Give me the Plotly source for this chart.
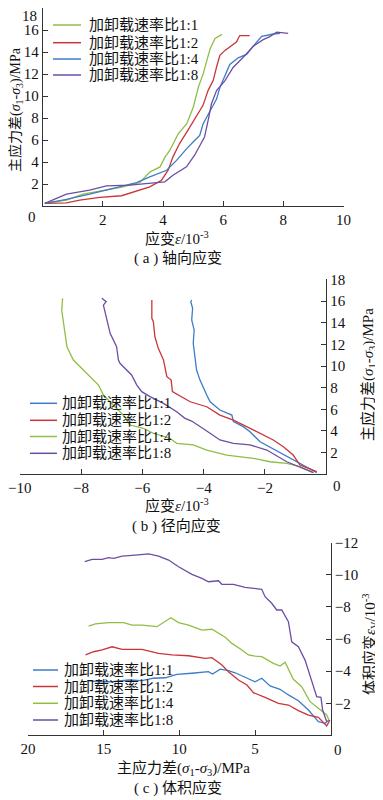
import plotly.graph_objects as go

W, H = 383, 800
OFF = 8  # page body margin of the html page

names = ["加卸载速率比1:1", "加卸载速率比1:2", "加卸载速率比1:4", "加卸载速率比1:8"]
GREEN, RED, BLUE, PURPLE = "#8fbe45", "#c9363a", "#3d7cc6", "#6d4ea4"

# ---------- (a) axial strain ----------
a_colors = [GREEN, RED, BLUE, PURPLE]
a_x_11 = [0.07, 0.79, 1.34, 1.9, 2.67, 3.23, 3.57, 3.9, 4.07, 4.23, 4.51, 4.79, 5.01, 5.18, 5.34, 5.46, 5.57, 5.73, 5.96]
a_y_11 = [0.25, 0.55, 1.09, 1.36, 1.76, 2.15, 3.12, 3.57, 4.48, 5.09, 6.6, 7.5, 9.03, 10.85, 12.06, 13.27, 14.33, 15.24, 15.6]
a_x_12 = [0.07, 0.79, 1.23, 1.9, 2.62, 3.12, 3.56, 3.95, 4.17, 4.33, 4.55, 4.83, 5.11, 5.33, 5.5, 5.67, 5.78, 5.89, 6.06, 6.28, 6.44, 6.55, 6.88]
a_y_12 = [0.25, 0.3, 0.56, 0.8, 0.95, 1.39, 1.75, 2.36, 3.27, 4.48, 5.69, 6.9, 8.1, 9.16, 10.52, 11.43, 12.64, 13.7, 14.15, 14.6, 14.9, 15.5, 15.5]
a_x_14 = [0.07, 0.79, 1.56, 2.34, 3.12, 3.56, 4.12, 4.45, 4.78, 5.05, 5.22, 5.33, 5.55, 5.78, 5.89, 6.06, 6.22, 6.5, 6.78, 7.0, 7.28, 7.67, 7.89]
a_y_14 = [0.25, 0.62, 1.09, 1.6, 2.15, 2.66, 3.26, 4.16, 5.21, 5.96, 6.42, 7.47, 8.52, 9.73, 10.78, 11.83, 12.88, 13.48, 13.78, 14.53, 15.43, 15.64, 15.7]
a_x_18 = [0.07, 0.79, 1.56, 2.12, 2.89, 3.56, 4.06, 4.33, 4.78, 5.05, 5.22, 5.38, 5.5, 5.61, 5.78, 6.06, 6.33, 6.66, 7.0, 7.33, 7.55, 7.78, 8.16]
a_y_18 = [0.25, 1.09, 1.45, 1.84, 1.91, 2.12, 2.21, 2.81, 3.57, 4.63, 5.54, 6.29, 7.8, 9.3, 10.5, 11.4, 12.6, 13.5, 14.53, 15.13, 15.4, 15.8, 15.7]

# ---------- (b) radial strain ----------
b_colors = [BLUE, RED, GREEN, PURPLE]
b_x_11 = [-0.31, -0.86, -1.51, -2.16, -2.49, -2.71, -3.03, -3.08, -3.47, -3.79, -3.9, -4.01, -4.12, -4.23, -4.28, -4.34, -4.31, -4.39, -4.36, -4.42, -4.39]
b_y_11 = [0.15, 1.0, 1.94, 3.0, 3.93, 4.4, 4.86, 5.47, 5.94, 6.7, 7.32, 7.94, 8.7, 9.63, 10.86, 12.1, 13.32, 14.25, 15.33, 15.94, 16.1]
b_x_12 = [-0.31, -0.86, -1.08, -1.4, -1.73, -2.38, -3.03, -3.47, -3.9, -4.44, -5.02, -5.06, -5.2, -5.31, -5.48, -5.59, -5.64, -5.69, -5.69]
b_y_12 = [0.24, 0.86, 1.78, 2.55, 3.17, 4.09, 5.01, 5.47, 6.24, 6.7, 7.63, 8.7, 9.01, 10.55, 11.63, 12.7, 14.09, 14.4, 16.1]
b_x_14 = [-0.42, -0.86, -1.29, -1.84, -2.38, -3.25, -3.9, -4.34, -4.88, -5.1, -5.64, -5.97, -6.4, -6.62, -6.95, -7.27, -7.43, -7.7, -7.98, -8.25, -8.46, -8.52, -8.58, -8.63, -8.6]
b_y_14 = [0.15, 0.7, 1.01, 1.16, 1.48, 1.78, 2.24, 2.71, 2.86, 3.32, 3.79, 4.25, 4.55, 5.47, 6.4, 7.32, 8.24, 9.01, 9.79, 10.55, 11.78, 13.02, 14.25, 15.17, 16.25]
b_x_18 = [-0.42, -1.29, -1.94, -2.49, -3.03, -3.47, -3.79, -4.12, -4.39, -4.61, -4.88, -5.31, -5.75, -6.02, -6.18, -6.35, -6.73, -6.78, -6.84, -7.05, -7.16, -7.22, -7.27, -7.18, -7.32]
b_y_18 = [0.15, 1.16, 2.24, 2.71, 2.86, 3.17, 3.79, 4.4, 4.92, 5.17, 5.78, 6.55, 7.17, 7.63, 8.24, 9.17, 10.25, 10.55, 11.78, 13.02, 14.25, 15.17, 15.63, 15.94, 16.25]

# ---------- (c) volumetric strain ----------
c_colors = [BLUE, RED, GREEN, PURPLE]
c_x_11 = [16.09, 15.33, 14.44, 13.35, 12.47, 11.7, 10.93, 10.16, 9.17, 8.08, 7.81, 7.3, 6.76, 6.32, 5.66, 5.0, 4.56, 4.01, 3.35, 2.8, 2.14, 1.48, 0.82, 0.38, 0.12]
c_y_11 = [-3.41, -3.34, -3.34, -3.45, -3.41, -3.56, -3.59, -3.8, -3.87, -3.97, -3.82, -4.13, -4.03, -3.9, -3.62, -3.34, -3.56, -3.08, -2.87, -2.52, -2.16, -1.58, -0.85, -0.75, -0.96]
c_x_12 = [16.2, 15.66, 15.1, 14.44, 13.78, 12.47, 11.37, 10.49, 9.39, 8.29, 7.85, 7.19, 6.76, 6.1, 5.54, 5.11, 4.34, 3.46, 2.8, 2.14, 1.48, 0.82, 0.27, 0.05]
c_y_12 = [-5.01, -5.21, -5.32, -5.52, -5.36, -5.36, -5.11, -5.01, -4.96, -4.8, -4.84, -4.38, -3.97, -3.45, -3.14, -2.66, -2.37, -2.0, -1.89, -1.54, -1.27, -1.13, -0.59, -0.96]
c_x_14 = [15.99, 15.54, 14.67, 13.68, 13.12, 12.47, 11.48, 10.56, 10.05, 9.39, 8.51, 7.85, 6.97, 6.53, 5.87, 5.44, 5.0, 4.56, 3.79, 3.35, 3.02, 2.47, 1.92, 1.37, 0.82, 0.27, 0.12]
c_y_14 = [-6.81, -6.94, -7.02, -7.02, -6.87, -6.87, -6.77, -7.33, -7.02, -6.87, -6.56, -6.61, -6.11, -5.73, -5.32, -5.01, -4.94, -4.9, -4.49, -4.32, -4.55, -3.49, -3.03, -2.1, -1.69, -1.27, -0.96]
c_x_18 = [16.25, 15.76, 15.1, 14.67, 14.34, 13.78, 12.9, 12.03, 11.37, 10.71, 10.05, 9.17, 8.51, 8.08, 7.42, 7.19, 6.43, 5.66, 4.56, 4.34, 3.9, 3.57, 3.24, 2.8, 2.58, 2.14, 1.7, 1.26, 0.93, 0.65, 0.54, 0.27]
c_y_18 = [-10.82, -10.96, -10.96, -11.07, -11.03, -11.17, -11.23, -11.3, -11.17, -10.92, -10.5, -10.03, -9.78, -9.57, -9.63, -9.41, -9.41, -9.22, -9.1, -8.64, -8.23, -7.81, -7.81, -7.08, -5.83, -5.52, -4.69, -3.45, -2.41, -2.37, -1.58, -0.85]

a_ticks_x = [2, 4, 6, 8, 10]
a_ticks_y = [2, 4, 6, 8, 10, 12, 14, 16, 18]
a_ticktext_y = ["2", "4", "6", "8", "10", "12", "14", "16", ""]  # "18" drawn separately (top edge)
b_ticks_x = [-10, -8, -6, -4, -2]
b_ticks_y = [2, 4, 6, 8, 10, 12, 14, 16, 18]
c_ticks_x = [20, 15, 10, 5]
c_ticks_y = [-12, -10, -8, -6, -4, -2]

FONT = "Liberation Serif, Noto Sans CJK SC, serif"
LW = 1.3

fig = go.Figure()

panels = [
    ("x", "y", a_colors, [(a_x_11, a_y_11), (a_x_12, a_y_12), (a_x_14, a_y_14), (a_x_18, a_y_18)]),
    ("x2", "y2", b_colors, [(b_x_11, b_y_11), (b_x_12, b_y_12), (b_x_14, b_y_14), (b_x_18, b_y_18)]),
    ("x3", "y3", c_colors, [(c_x_11, c_y_11), (c_x_12, c_y_12), (c_x_14, c_y_14), (c_x_18, c_y_18)]),
]
for xa, ya, cols, series in panels:
    for name, col, (xs, ys) in zip(names, cols, series):
        fig.add_trace(go.Scatter(x=xs, y=ys, mode="lines", name=name, xaxis=xa, yaxis=ya,
                                 line=dict(color=col, width=LW), showlegend=False))

def px(x):
    return (x - OFF) / W

def py(y):
    return min(1.0, 1 - (y - OFF) / H)

axis_common = dict(showline=True, linecolor="#333333", linewidth=1, ticks="inside", ticklen=5,
                   tickcolor="#333333", showgrid=False, zeroline=False, automargin=False,
                   ticklabeloverflow="allow",
                   tickfont=dict(family=FONT, size=15, color="#111111"))

fig.update_layout(
    template="none",
    width=W, height=H, margin=dict(l=0, r=0, t=0, b=0, pad=0), autosize=False,
    paper_bgcolor="white", plot_bgcolor="white",
    font=dict(family=FONT, size=15, color="#111111"),
    xaxis=dict(domain=[px(42.7), px(343.5)], range=[0, 10], tickvals=a_ticks_x, anchor="y", **axis_common),
    yaxis=dict(domain=[py(206.2), 1.0], range=[0, 18], tickvals=a_ticks_y, ticktext=a_ticktext_y,
               anchor="x", **axis_common),
    xaxis2=dict(domain=[px(19.7), px(326.3)], range=[-10, 0], tickvals=b_ticks_x, anchor="y2", **axis_common),
    yaxis2=dict(domain=[py(474.3), py(279.4)], range=[0, 18], tickvals=b_ticks_y, anchor="x2", side="right", **axis_common),
    xaxis3=dict(domain=[px(27.9), px(330.8)], range=[20, 0], tickvals=c_ticks_x, anchor="y3", **axis_common),
    yaxis3=dict(domain=[py(735.4), py(542.7)], range=[0, -12], tickvals=c_ticks_y, anchor="x3", side="right",
                **axis_common),
)

ann = []
def text(x, y, s, angle=0, size=15, xanchor="center", yanchor="middle", **kw):
    ann.append(dict(x=px(x), y=py(y), xref="paper", yref="paper", text=s, showarrow=False,
                    textangle=angle, xanchor=xanchor, yanchor=yanchor,
                    font=dict(family=FONT, size=size, color="#111111"), **kw))

# top label of (a) y axis, kept inside the page
text(39, 8, "18", xanchor="right", yanchor="top", height=12, valign="middle")

# corner zeros
text(32, 217, "0")
text(337, 486, "0")
text(338, 750, "0")

# axis titles
strain_title = "应变<i>ε</i>/10<sup>-3</sup>"
stress_title = "主应力差(<i>σ</i><sub>1</sub>-<i>σ</i><sub>3</sub>)/MPa"
text(177, 238, strain_title)
text(16, 110, stress_title, angle=-90, size=14)
text(177, 505, strain_title)
text(368, 375, stress_title, angle=-90)
text(183, 768, stress_title)
text(370, 645, "体积应变<i>ε</i><sub>V</sub>/10<sup>-3</sup>", angle=-90)

# captions
text(178, 258, "( a ) 轴向应变")
text(176, 526, "( b ) 径向应变")
text(178, 788, "( c ) 体积应变")

# manual legends
shapes = []
legend_specs = [
    (a_colors, 53, 81, 87, [25, 42.7, 59, 75]),
    (b_colors, 30, 57, 60, [403.3, 420.3, 436.5, 453.3]),
    (c_colors, 33, 58, 62, [670, 686.5, 703.3, 720]),
]
for cols, x0, x1, tx, rows in legend_specs:
    for name, col, ry in zip(names, cols, rows):
        shapes.append(dict(type="line", xref="paper", yref="paper", x0=px(x0), x1=px(x1),
                           y0=py(ry), y1=py(ry), line=dict(color=col, width=1.5)))
        text(tx, ry, name, xanchor="left")

fig.update_layout(annotations=ann, shapes=shapes)
fig.write_html("out.html")
